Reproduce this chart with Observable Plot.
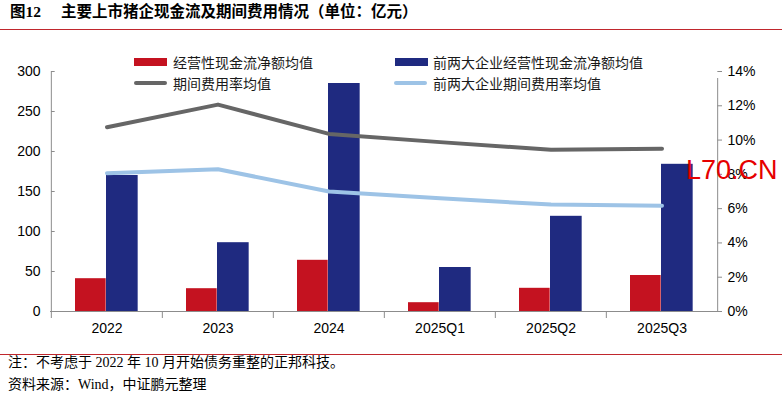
<!DOCTYPE html>
<html><head><meta charset="utf-8">
<script src="https://cdn.jsdelivr.net/npm/d3@7"></script>
<script src="https://cdn.jsdelivr.net/npm/@observablehq/plot@0.6"></script>
<style>
body{margin:0;background:#fff;width:782px;height:400px;position:relative;overflow:hidden;font-family:"Noto Sans CJK SC",sans-serif;color:#000;}
.abs{position:absolute;white-space:nowrap;}
#title{top:2px;line-height:20px;font-size:15.5px;font-weight:700;font-family:"Liberation Serif","Noto Sans CJK SC",serif;}
.rule{left:0;width:782px;height:1px;background:#c0272d;}
.leg{font-size:14px;line-height:20px;color:#1a1a1a;}
.note{left:8px;font-size:14px;line-height:20px;font-family:"Liberation Serif","Noto Sans CJK SC",serif;}
#wm{left:686px;top:157px;font-family:"Liberation Sans",Arial,sans-serif;font-size:27px;line-height:27px;color:#e60000;}
</style></head><body>
<div id="chart" class="abs" style="left:0;top:0"></div>
<div class="abs" id="title"><span class="abs" style="left:10px">图12</span><span class="abs" style="left:61px" id="titleText"></span></div>
<div class="abs rule" style="top:29px"></div>
<div id="legend"></div>
<div class="abs rule" style="top:354px"></div>
<div class="abs note" style="top:353px" id="note1"></div>
<div class="abs note" style="top:375px" id="note2"></div>
<div class="abs" id="wm">L70.CN</div>
<script>
const titleText = "主要上市猪企现金流及期间费用情况（单位：亿元）";
const categories = ["2022", "2023", "2024", "2025Q1", "2025Q2", "2025Q3"];
const cashFlowAvg = [41, 28.5, 64, 11, 29, 45];
const top2CashFlowAvg = [170, 86, 285, 55, 119, 184];
const expenseRateAvg = [10.75, 12.07, 10.36, 9.88, 9.43, 9.5];
const top2ExpenseRateAvg = [8.07, 8.3, 7.0, 6.6, 6.24, 6.17];
const leftTicks = [0, 50, 100, 150, 200, 250, 300];
const rightTicks = [0, 2, 4, 6, 8, 10, 12, 14];
const seriesNames = ["经营性现金流净额均值", "前两大企业经营性现金流净额均值", "期间费用率均值", "前两大企业期间费用率均值"];
const seriesColors = ["#c41220", "#1f2a80", "#666666", "#9dc3e6"];
const noteLines = ["注：不考虑于 2022 年 10 月开始债务重整的正邦科技。", "资料来源：Wind，中证鹏元整理"];

document.getElementById("titleText").textContent = titleText;
document.getElementById("note1").textContent = noteLines[0];
document.getElementById("note2").textContent = noteLines[1];

const yMax = 300, rMax = 14;
const toLeft = p => p / rMax * yMax;
const rows = categories.map((c, i) => ({
  category: c,
  cash: cashFlowAvg[i],
  top2cash: top2CashFlowAvg[i],
  rate: toLeft(expenseRateAvg[i]),
  top2rate: toLeft(top2ExpenseRateAvg[i])
}));

const W = 782, H = 354, mL = 50, mR = 64, mT = 71, mB = 43;
const bw = (W - mL - mR) / categories.length;
const axisColor = "#8c8c8c";
const first = categories[0], last = categories[categories.length - 1];

const chart = Plot.plot({
  width: W, height: H,
  marginLeft: mL, marginRight: mR, marginTop: mT, marginBottom: mB,
  style: {fontFamily: "'Liberation Sans', Arial, sans-serif", fontSize: "14px", color: "#000", background: "transparent", overflow: "visible"},
  x: {type: "band", domain: categories, padding: 0, label: null},
  y: {domain: [0, yMax], label: null},
  marks: [
    Plot.barY(rows, {x: "category", y: "cash", fill: seriesColors[0], insetLeft: 24, insetRight: bw - 55}),
    Plot.barY(rows, {x: "category", y: "top2cash", fill: seriesColors[1], insetLeft: 55, insetRight: bw - 87}),
    Plot.line(rows, {x: "category", y: "rate", stroke: seriesColors[2], strokeWidth: 4, strokeLinejoin: "round"}),
    Plot.line(rows, {x: "category", y: "top2rate", stroke: seriesColors[3], strokeWidth: 4, strokeLinejoin: "round"}),
    Plot.ruleY([0], {stroke: axisColor}),
    Plot.ruleX([first], {x: d => d, dx: -bw / 2, y1: 0, y2: yMax, stroke: axisColor}),
    Plot.ruleX([last], {x: d => d, dx: bw / 2, y1: 0, y2: yMax, insetBottom: -7, stroke: axisColor}),
    Plot.ruleX(categories, {x: d => d, dx: -bw / 2, y1: 0, y2: 0, insetBottom: -7, stroke: axisColor}),
    Plot.ruleY(leftTicks, {y: d => d, x1: () => first, x2: () => first, insetRight: bw - 4, stroke: axisColor}),
    Plot.ruleY(rightTicks.map(toLeft), {y: d => d, x1: () => last, x2: () => last, insetLeft: bw, insetRight: -5, stroke: axisColor}),
    Plot.axisY({ticks: leftTicks, anchor: "left", tickSize: 0, tickPadding: 10, tickFormat: d => String(d), label: null}),
    Plot.axisY({ticks: rightTicks.map(toLeft), anchor: "right", tickSize: 0, tickPadding: 9, tickFormat: v => Math.round(v / yMax * rMax) + "%", label: null}),
    Plot.axisX({anchor: "bottom", tickSize: 0, tickPadding: 12, label: null})
  ]
});
document.getElementById("chart").appendChild(chart);

// legend
const legendItems = [
  {name: seriesNames[0], color: seriesColors[0], kind: "bar", sx: 134, tx: 173, cy: 62},
  {name: seriesNames[1], color: seriesColors[1], kind: "bar", sx: 395, tx: 433, cy: 62},
  {name: seriesNames[2], color: seriesColors[2], kind: "line", sx: 134, tx: 173, cy: 83},
  {name: seriesNames[3], color: seriesColors[3], kind: "line", sx: 394, tx: 433, cy: 83}
];
const legend = document.getElementById("legend");
legendItems.forEach(it => {
  const sw = document.createElement("div");
  sw.className = "abs";
  const h = it.kind === "bar" ? 8 : 4;
  sw.style.cssText = `left:${it.sx}px;top:${it.cy - h / 2}px;width:33px;height:${h}px;background:${it.color};` + (it.kind === "line" ? "border-radius:2px;" : "");
  legend.appendChild(sw);
  const tx = document.createElement("div");
  tx.className = "abs leg";
  tx.style.left = it.tx + "px";
  tx.style.top = (it.cy - 10) + "px";
  tx.textContent = it.name;
  legend.appendChild(tx);
});
</script>
</body></html>
